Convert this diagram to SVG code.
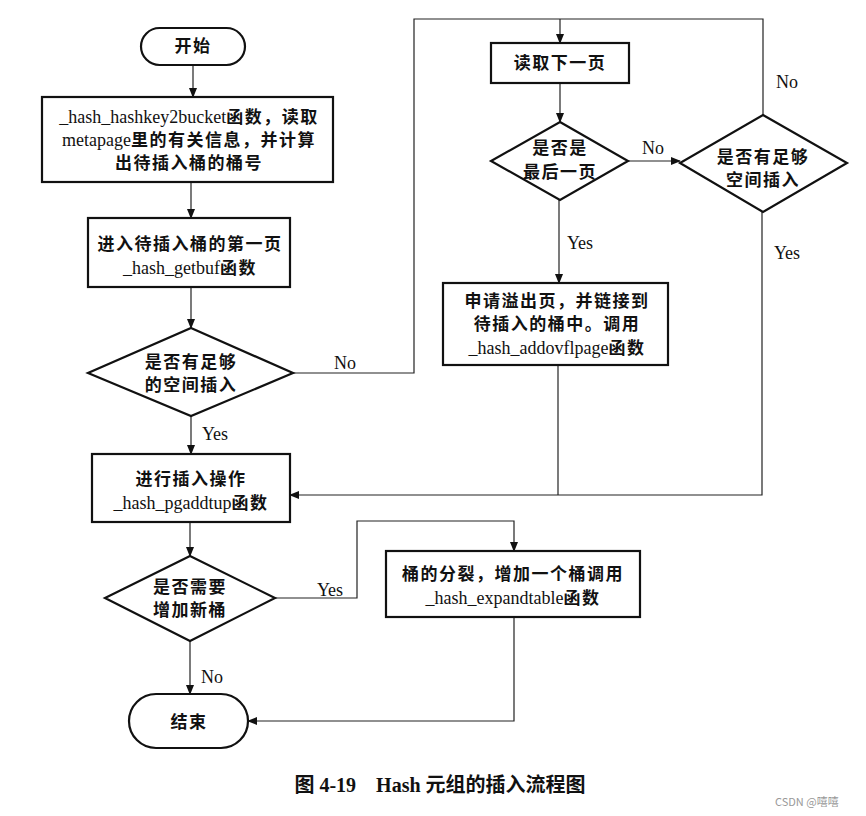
<svg xmlns="http://www.w3.org/2000/svg" width="866" height="816" viewBox="0 0 866 816">
<style>
.shape{fill:#fff;stroke:#111;stroke-width:2.2}
.conn{fill:none;stroke:#222;stroke-width:1.2}
text{font-family:"Liberation Serif","Noto Sans CJK SC",serif;font-size:18px;fill:#111;text-anchor:middle}
.c{font-family:"Noto Sans CJK SC",sans-serif;font-weight:bold;font-size:17px;letter-spacing:1.5px}
.lbl{font-size:18px}
.cap{font-weight:bold;font-size:20px}
.wm{font-family:"Noto Sans CJK SC",sans-serif;font-size:11px;fill:#999;text-anchor:start}
</style>
<defs>
<marker id="ah" markerWidth="10" markerHeight="8" refX="9" refY="4" orient="auto" markerUnits="userSpaceOnUse">
<path d="M0,0 L10,4 L0,8 Z" fill="#111"/>
</marker>
</defs>
<rect width="866" height="816" fill="#fff"/>

<g id="connectors">
<path class="conn" d="M193,65 V97" marker-end="url(#ah)"/>
<path class="conn" d="M191,182 V218" marker-end="url(#ah)"/>
<path class="conn" d="M191,287 V328" marker-end="url(#ah)"/>
<path class="conn" d="M191,416 V454" marker-end="url(#ah)"/>
<path class="conn" d="M293,373 H414 V19 H560"/>
<path class="conn" d="M763,115 V19 H560"/>
<path class="conn" d="M560,19 V43" marker-end="url(#ah)"/>
<path class="conn" d="M560,83 V122" marker-end="url(#ah)"/>
<path class="conn" d="M628,161 H680" marker-end="url(#ah)"/>
<path class="conn" d="M559,200 V283" marker-end="url(#ah)"/>
<path class="conn" d="M558,365 V495"/>
<path class="conn" d="M762,212 V495 H290" marker-end="url(#ah)"/>
<path class="conn" d="M190,522 V556" marker-end="url(#ah)"/>
<path class="conn" d="M275,598 H357 V521 H514 V551" marker-end="url(#ah)"/>
<path class="conn" d="M190,641 V694" marker-end="url(#ah)"/>
<path class="conn" d="M514,617 V721 H248" marker-end="url(#ah)"/>
</g>

<g id="labels">
<text class="lbl" x="345" y="369">No</text>
<text class="lbl" x="215" y="440">Yes</text>
<text class="lbl" x="787" y="88">No</text>
<text class="lbl" x="653" y="154">No</text>
<text class="lbl" x="580" y="249">Yes</text>
<text class="lbl" x="787" y="259">Yes</text>
<text class="lbl" x="330" y="596">Yes</text>
<text class="lbl" x="212" y="683">No</text>
</g>

<g id="start">
<rect class="shape" x="141" y="28" width="104" height="37" rx="18.5"/>
<text x="193" y="52"><tspan class="c">开始</tspan></text>
</g>

<g id="box1">
<rect class="shape" x="42" y="97" width="291" height="85"/>
<text x="189" y="123">_hash_hashkey2bucket<tspan class="c">函数，读取</tspan></text>
<text x="189" y="146">metapage<tspan class="c">里的有关信息，并计算</tspan></text>
<text x="189" y="169"><tspan class="c">出待插入桶的桶号</tspan></text>
</g>

<g id="box2">
<rect class="shape" x="88" y="218" width="202" height="69"/>
<text x="190" y="250"><tspan class="c">进入待插入桶的第一页</tspan></text>
<text x="190" y="274">_hash_getbuf<tspan class="c">函数</tspan></text>
</g>

<g id="d1">
<polygon class="shape" points="191,328 293,373 191,416 88,373"/>
<text x="191" y="368"><tspan class="c">是否有足够</tspan></text>
<text x="191" y="391"><tspan class="c">的空间插入</tspan></text>
</g>

<g id="readnext">
<rect class="shape" x="491" y="43" width="138" height="40"/>
<text x="560" y="69"><tspan class="c">读取下一页</tspan></text>
</g>

<g id="d2">
<polygon class="shape" points="560,122 628,161 560,200 491,161"/>
<text x="560" y="154"><tspan class="c">是否是</tspan></text>
<text x="560" y="178"><tspan class="c">最后一页</tspan></text>
</g>

<g id="d3">
<polygon class="shape" points="763,115 847,163 763,212 680,163"/>
<text x="763" y="163"><tspan class="c">是否有足够</tspan></text>
<text x="763" y="186"><tspan class="c">空间插入</tspan></text>
</g>

<g id="box3">
<rect class="shape" x="443" y="283" width="225" height="82"/>
<text x="557" y="307"><tspan class="c">申请溢出页，并链接到</tspan></text>
<text x="557" y="330"><tspan class="c">待插入的桶中。调用</tspan></text>
<text x="557" y="354">_hash_addovflpage<tspan class="c">函数</tspan></text>
</g>

<g id="pgaddtup">
<rect class="shape" x="92" y="454" width="198" height="68"/>
<text x="191" y="485"><tspan class="c">进行插入操作</tspan></text>
<text x="191" y="509">_hash_pgaddtup<tspan class="c">函数</tspan></text>
</g>

<g id="d4">
<polygon class="shape" points="190,556 275,598 190,641 105,598"/>
<text x="190" y="593"><tspan class="c">是否需要</tspan></text>
<text x="190" y="616"><tspan class="c">增加新桶</tspan></text>
</g>

<g id="box4">
<rect class="shape" x="386" y="551" width="254" height="66"/>
<text x="513" y="580"><tspan class="c">桶的分裂，增加一个桶调用</tspan></text>
<text x="513" y="604">_hash_expandtable<tspan class="c">函数</tspan></text>
</g>

<g id="end">
<rect class="shape" x="129" y="694" width="119" height="54" rx="27"/>
<text x="189" y="728"><tspan class="c">结束</tspan></text>
</g>

<g id="caption">
<text class="cap" x="440" y="792" xml:space="preserve"><tspan font-family="Noto Sans CJK SC" font-weight="bold">图</tspan> 4-19    Hash <tspan font-family="Noto Sans CJK SC" font-weight="bold">元组的插入流程图</tspan></text>
<text class="wm" x="775" y="806">CSDN @嘻嘻</text>
</g>
</svg>
